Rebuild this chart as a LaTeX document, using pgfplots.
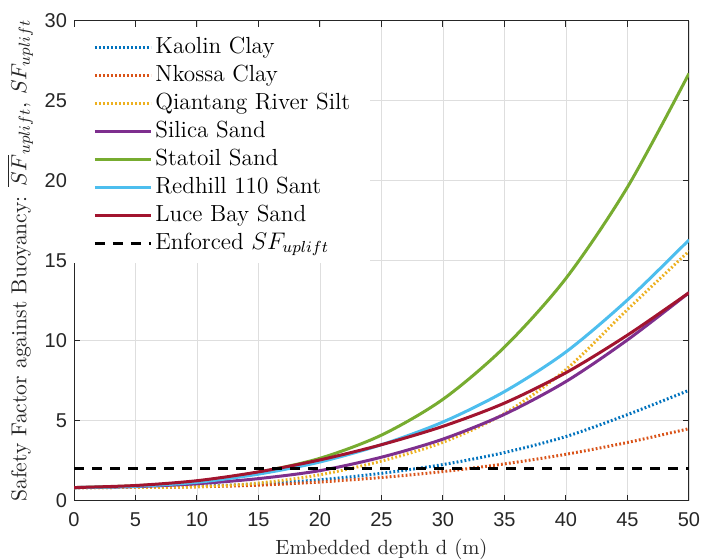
\documentclass[border=0pt]{standalone}
\usepackage{pgfplots}
\pgfplotsset{compat=1.18}
\usepackage{pgfplotstable}
\usepackage{fontspec}
\newfontfamily\arialf{Liberation Sans}
\definecolor{mblue}{rgb}{0,0.447,0.741}
\definecolor{morange}{rgb}{0.85,0.325,0.098}
\definecolor{myellow}{rgb}{0.929,0.694,0.125}
\definecolor{mpurple}{rgb}{0.494,0.184,0.556}
\definecolor{mgreen}{rgb}{0.466,0.674,0.188}
\definecolor{mcyan}{rgb}{0.301,0.745,0.933}
\definecolor{mred}{rgb}{0.635,0.078,0.184}
\definecolor{axgray}{rgb}{0.15,0.15,0.15}
\pgfplotstableread{
d  kaolin nkossa qiantang silica statoil redhill luce
0  0.82   0.82   0.82     0.82   0.82    0.82    0.82
5  0.84   0.83   0.83     0.88   0.93    0.90    0.95
10 0.90   0.87   0.87     1.06   1.20    1.15    1.25
15 1.05   0.97   1.10     1.38   1.78    1.66    1.80
20 1.31   1.17   1.62     1.88   2.65    2.42    2.55
25 1.71   1.45   2.48     2.72   4.10    3.50    3.50
30 2.26   1.82   3.65     3.85   6.34    4.92    4.65
35 3.01   2.30   5.45     5.40   9.60    6.82    6.10
40 4.01   2.90   8.20     7.45   13.90   9.30    8.00
45 5.38   3.64   11.95    10.05  19.60   12.55   10.35
50 6.90   4.50   15.60    13.00  26.70   16.30   13.00
}\data
\pgfplotstableread{
d sf
0 2
50 2
}\enforced
\begin{document}
\begin{tikzpicture}
\begin{axis}[
  width=307.5pt, height=240pt, scale only axis,
  xmin=0, xmax=50, ymin=0, ymax=30,
  xtick={0,5,...,50}, ytick={0,5,...,30},
  grid=major,
  grid style={color=black!13, line width=0.4pt},
  axis line style={color=axgray, line width=0.5pt},
  tick style={color=axgray, line width=0.5pt},
  tick align=inside, major tick length=3pt,
  /pgf/number format/assume math mode=true,
  tick label style={font=\fontsize{10}{12}\selectfont\arialf, color=axgray},
  xticklabel style={yshift=-2.5pt},
  xlabel={Embedded depth d (m)},
  ylabel={Safety Factor against Buoyancy: $\overline{SF}_{uplift}$, $SF_{uplift}$},
  label style={font=\fontsize{10.3}{12}\selectfont, color=axgray},
  xlabel style={yshift=1pt},
  ylabel style={font=\fontsize{10.8}{12}\selectfont, yshift=-1pt},
  legend style={at={(axis description cs:0,1)}, anchor=north west,
    xshift=-0.5pt, yshift=-3pt, draw=none, fill=white,
    inner xsep=10pt, inner ysep=4pt,
    font=\fontsize{11.65}{13}\selectfont,
    nodes={inner sep=0pt, text height=9pt, text depth=3pt, anchor=west},
    row sep=2pt,
    /tikz/every odd column/.append style={column sep=1.5pt}},
  legend cell align=left,
  legend image code/.code={\draw[#1] (0pt,0pt) -- (28pt,0pt);},
  every axis plot/.append style={line width=1.5pt},
]
\addplot[mblue, smooth, dash pattern=on 0.9pt off 1.1pt] table[x=d, y=kaolin] {\data};
\addlegendentry{Kaolin Clay}
\addplot[morange, smooth, dash pattern=on 0.9pt off 1.1pt] table[x=d, y=nkossa] {\data};
\addlegendentry{Nkossa Clay}
\addplot[myellow, smooth, dash pattern=on 0.9pt off 1.1pt] table[x=d, y=qiantang] {\data};
\addlegendentry{Qiantang River Silt}
\addplot[mpurple, smooth] table[x=d, y=silica] {\data};
\addlegendentry{Silica Sand}
\addplot[mgreen, smooth] table[x=d, y=statoil] {\data};
\addlegendentry{Statoil Sand}
\addplot[mcyan, smooth] table[x=d, y=redhill] {\data};
\addlegendentry{Redhill 110 Sant}
\addplot[mred, smooth] table[x=d, y=luce] {\data};
\addlegendentry{Luce Bay Sand}
\addplot[black, dash pattern=on 5pt off 4pt] table[x=d, y=sf] {\enforced};
\addlegendentry{Enforced $SF_{uplift}$}
\end{axis}
\pgfresetboundingbox
\path[use as bounding box] (-37pt,-29.65pt) rectangle (314pt,250.35pt);
\end{tikzpicture}
\end{document}
